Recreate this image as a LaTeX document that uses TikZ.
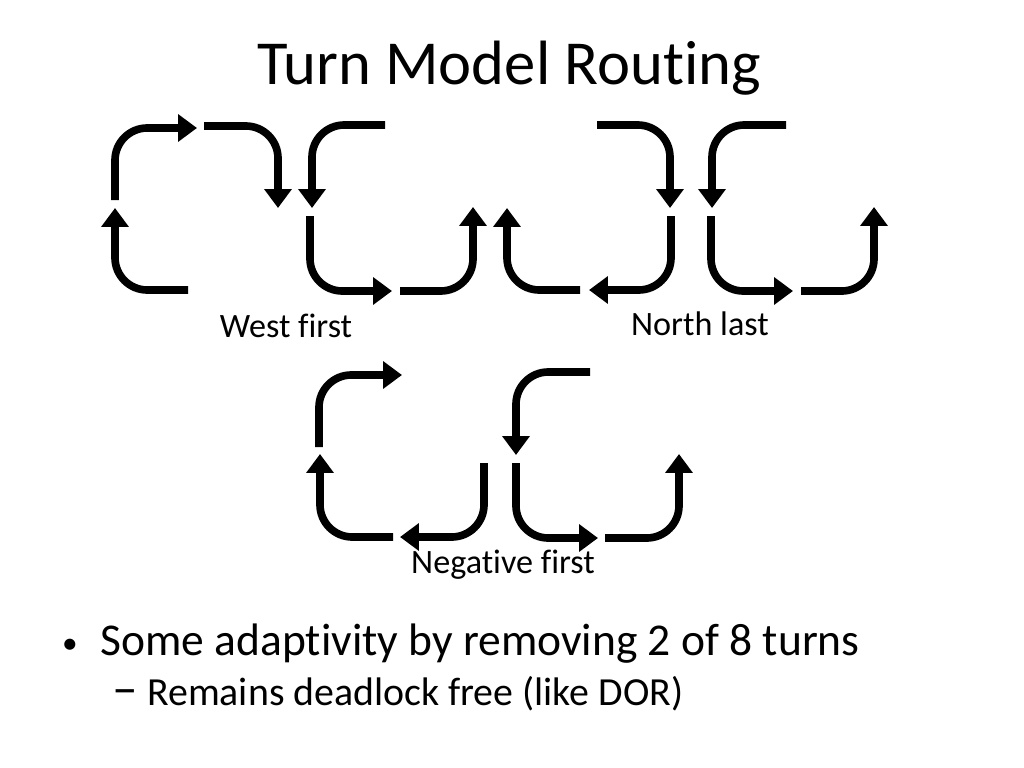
\documentclass[tikz,border=0pt]{standalone}
\usepackage{fontspec}
\setmainfont[Ligatures=NoCommon]{Carlito}
\usetikzlibrary{arrows.meta}
\begin{document}
\begin{tikzpicture}[x=0.0248cm, y=-0.0248cm,
        turn/.style={line width=0.19cm, rounded corners=0.8cm, -{Triangle[length=0.47cm, width=0.66cm]}},
        every text/.style={inner sep=0pt},
        turnlabel/.style={every text, anchor=base, font=\fontsize{24bp}{29bp}\selectfont}]
        
        \useasboundingbox (0,0) rectangle (1024,768);
        
        % title
        \node [every text, anchor=base, font=\fontsize{44bp}{53bp}\selectfont] (title) at (509,85) {Turn Model Routing};
        
        % west first
        \foreach \xa/\ya/\xb/\yb/\xc/\yc in {115/200/115/128/197/128, 204/126/278/126/278/208, 188/290/115/290/115/208,
            385/125/312/125/312/208, 310/216/310/291/392/291, 400/291/473/291/473/207}
        \draw [turn] (\xa,\ya) -- (\xb,\yb) -- (\xc,\yc);
        
        % north last
        \foreach \xa/\ya/\xb/\yb/\xc/\yc in {597/125/670/125/670/208, 671/216/671/290/589/290, 580/290/507/290/507/208,
            786/125/712/125/712/208, 711/216/711/291/793/291, 801/291/874/291/874/207}
        \draw [turn] (\xa,\ya) -- (\xb,\yb) -- (\xc,\yc);
        
        % negative first
        \foreach \xa/\ya/\xb/\yb/\xc/\yc in {319/447/319/375/402/375, 484/463/484/537/400/537, 393/537/320/537/320/454,
            590/372/516/372/516/455, 516/463/516/538/598/538, 605/538/679/538/679/454}
        \draw [turn] (\xa,\ya) -- (\xb,\yb) -- (\xc,\yc);
        
        %   labels
        \node [turnlabel] (west) at (286,337) {West first};
        \node [turnlabel] (north) at (700,335) {North last};
        \node [turnlabel] (negative) at (503,573) {Negative first};
        
        % bullets
        \node [every text, anchor=base, font=\fontsize{22bp}{26bp}\selectfont] (dot) at (70,653) {•};
        \node [every text, anchor=base west, font=\fontsize{32bp}{38bp}\selectfont] (point) at (100,655) {Some adaptivity by removing 2 of 8 turns};
        \node [every text, anchor=base west, font=\fontsize{36bp}{43bp}\selectfont] (dash) at (112,705) {–};
        \node [every text, anchor=base west, font=\fontsize{28bp}{34bp}\selectfont] (subpoint) at (147,705) {Remains deadlock free (like DOR)};
        
    \end{tikzpicture}
\end{document}
